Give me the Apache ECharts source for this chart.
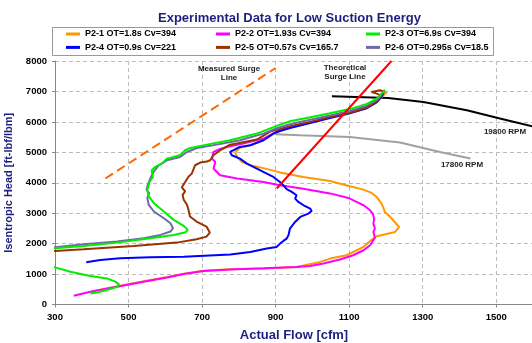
<!DOCTYPE html>
<html><head><meta charset="utf-8">
<script src="https://cdn.jsdelivr.net/npm/echarts@6/dist/echarts.min.js"></script>
<style>html,body{margin:0;padding:0;background:#fff}#c{width:532px;height:343px}</style>
</head><body><div id="c"></div>
<script>
const seriesNames = ['P2-1 OT=1.8s Cv=394', 'P2-2 OT=1.93s Cv=394', 'P2-3 OT=6.9s Cv=394', 'P2-4 OT=0.9s Cv=221', 'P2-5 OT=0.57s Cv=165.7', 'P2-6 OT=0.295s Cv=18.5'];
const seriesColors = ['#FF9900', '#FF00FF', '#00EE00', '#0000FF', '#993300', '#6B6BA8'];

const p21 = [[400,430],[470,600],[541,765],[605,905],[650,1010],[704,1110],[776,1158],[867,1180],[957,1235],[1021,1399],[1048,1508],[1093,1618],[1139,1892],[1157,2089],[1175,2242],[1225,2384],[1236,2549],[1229,2636],[1216,2822],[1207,2932],[1197,3041],[1193,3184],[1188,3315],[1175,3534],[1161,3665],[1139,3775],[1102,3885],[1048,4060],[975,4191],[912,4340],[867,4480],[831,4575],[808,4684],[795,4850],[790,5000],[803,5150],[831,5230],[867,5400],[900,5660],[939,5820],[994,5980],[1048,6150],[1102,6300],[1148,6480],[1178,6700],[1198,6920],[1203,6990]];
const p22 = [[351,286],[396,418],[469,582],[541,747],[605,890],[650,1000],[704,1099],[777,1150],[867,1191],[957,1235],[994,1268],[1030,1344],[1075,1476],[1111,1618],[1139,1782],[1157,1947],[1170,2198],[1166,2384],[1170,2494],[1166,2658],[1168,2822],[1164,2987],[1157,3096],[1139,3260],[1120,3370],[1098,3501],[1048,3650],[975,3800],[912,3918],[867,4026],[795,4138],[749,4246],[731,4466],[736,4684],[727,4794],[731,5011],[745,5090],[767,5176],[812,5286],[867,5450],[903,5680],[939,5830],[994,5990],[1048,6160],[1102,6320],[1148,6490],[1175,6680],[1191,6900],[1195,6983]];
const p23 = [[396,363],[423,414],[455,525],[469,580],[474,660],[464,750],[441,857],[396,934],[342,1077],[300,1220],[270,1300],[270,1830],[300,1846],[378,1923],[469,2033],[560,2176],[623,2286],[655,2374],[661,2451],[650,2583],[623,2780],[596,3055],[569,3330],[555,3550],[551,3750],[557,4027],[566,4191],[563,4410],[572,4519],[591,4629],[604,4793],[640,4903],[654,5067],[668,5143],[713,5253],[776,5395],[849,5616],[903,5870],[939,6020],[994,6150],[1048,6280],[1102,6420],[1148,6590],[1175,6760],[1193,6980],[1197,7060]];
const p24 = [[385,1385],[423,1462],[477,1517],[559,1550],[650,1572],[777,1645],[831,1727],[876,1837],[903,1892],[912,2001],[921,2089],[930,2165],[935,2275],[939,2494],[953,2713],[967,2877],[989,2987],[998,3074],[994,3151],[976,3260],[962,3370],[953,3479],[957,3589],[944,3698],[930,3790],[917,3973],[894,4191],[876,4302],[849,4466],[822,4630],[803,4794],[781,4903],[776,5011],[790,5100],[803,5176],[831,5231],[867,5395],[894,5614],[912,5700],[939,5800],[994,5960],[1048,6130],[1102,6280],[1148,6450],[1175,6640],[1188,6830],[1193,6950]];
const p25 = [[270,1740],[300,1758],[378,1813],[514,1923],[631,2033],[685,2143],[712,2231],[721,2363],[712,2561],[685,2725],[667,2890],[663,3110],[659,3275],[650,3440],[647,3605],[654,3715],[645,3850],[654,4026],[663,4200],[672,4300],[681,4575],[695,4662],[713,4700],[722,4738],[731,4903],[749,5067],[776,5250],[794,5290],[849,5420],[885,5680],[939,5860],[994,6000],[1048,6160],[1102,6300],[1148,6470],[1175,6670],[1188,6860],[1175,6928],[1161,6983],[1166,7037],[1184,7037],[1197,6983]];
const p26 = [[270,1860],[300,1880],[378,1978],[469,2066],[541,2176],[587,2286],[614,2396],[621,2506],[614,2670],[596,2835],[569,3055],[555,3275],[551,3495],[556,3660],[549,3770],[552,3917],[559,4136],[568,4355],[582,4574],[604,4738],[640,4848],[659,5012],[686,5143],[740,5253],[803,5395],[867,5614],[903,5790],[939,5920],[994,6070],[1048,6210],[1102,6360],[1148,6530],[1175,6720],[1191,6950],[1195,7016]];
const measuredSurge = [[437,4140],[900,7770]];
const theoreticalSurge = [[903,3810],[1215,8000]];
const rpm19800 = [[1053,6841],[1206,6785],[1302,6653],[1420,6381],[1510,6108],[1600,5850]];
const rpm17800 = [[899,5593],[966,5560],[1102,5504],[1238,5320],[1347,5011],[1430,4794]];
const testData = [p21, p22, p23, p24, p25, p26];

const xMin = 300, xMax = 1600, xStep = 200;
const yMin = 0, yMax = 8000, yStep = 1000;

const FONT = 'Arial, "Liberation Sans", sans-serif';
const chart = echarts.init(document.getElementById('c'), null, {renderer: 'canvas'});

const lineSeries = (name, data, color, extra) => Object.assign({
  name, type: 'line', data, showSymbol: false, symbol: 'none', silent: true,
  lineStyle: {color, width: 2}, itemStyle: {color}
}, extra || {});

const legendCol = (i, left) => ({
  left, top: 28, orient: 'vertical', itemGap: 1.4, itemWidth: 14, itemHeight: 3, icon: 'rect',
  selectedMode: false, padding: 0,
  data: [seriesNames[i], seriesNames[i + 3]],
  textStyle: {fontFamily: FONT, fontWeight: 'bold', fontSize: 9, color: '#000', lineHeight: 12}
});

const series = [
  lineSeries('19800 RPM', rpm19800, '#000000'),
  lineSeries('17800 RPM', rpm17800, '#A0A0A0'),
  lineSeries('Measured Surge Line', measuredSurge, '#FF6600', {lineStyle: {color: '#FF6600', width: 2, type: [9, 5]}})
];
const order = [0, 1, 3, 4, 5, 2];
order.forEach(i => series.push(lineSeries(seriesNames[i], testData[i], seriesColors[i])));
series.push(lineSeries('Theoretical Surge Line', theoreticalSurge, '#FF0000'));

const plain = v => String(v);

chart.setOption({
  animation: false,
  backgroundColor: '#fff',
  title: {
    text: 'Experimental Data for Low Suction Energy', left: 153, top: 7,
    textStyle: {fontFamily: FONT, fontWeight: 'bold', fontSize: 13, color: '#1F1F7F'}
  },
  legend: [legendCol(0, 66), legendCol(1, 216), legendCol(2, 366)],
  grid: {left: 55, top: 61, width: 478, height: 243.5, containLabel: false, outerBoundsMode: 'none'},
  xAxis: {
    type: 'value', min: xMin, max: xMax, interval: xStep,
    name: 'Actual Flow [cfm]', nameLocation: 'middle', nameGap: 24,
    nameTextStyle: {fontFamily: FONT, fontWeight: 'bold', fontSize: 13, color: '#1F1F7F'},
    axisLine: {show: true, lineStyle: {color: '#888', width: 1}},
    axisTick: {show: true, length: 3, lineStyle: {color: '#888'}},
    axisLabel: {fontFamily: FONT, fontWeight: 'bold', fontSize: 9.5, color: '#000', margin: 8, showMaxLabel: false, formatter: plain},
    splitLine: {show: true, lineStyle: {color: '#BBBBBB', type: [4, 3], width: 1}}
  },
  yAxis: {
    type: 'value', min: yMin, max: yMax, interval: yStep,
    name: 'Isentropic Head [ft-lbf/lbm]', nameLocation: 'middle', nameGap: 33,
    nameTextStyle: {fontFamily: FONT, fontWeight: 'bold', fontSize: 11, color: '#1F1F7F'},
    axisLine: {show: true, lineStyle: {color: '#888', width: 1}},
    axisTick: {show: true, length: 3, lineStyle: {color: '#888'}},
    axisLabel: {fontFamily: FONT, fontWeight: 'bold', fontSize: 9.5, color: '#000', margin: 8, formatter: plain},
    splitLine: {show: true, lineStyle: {color: '#BBBBBB', type: [4, 3], width: 1}}
  },
  graphic: [
    {type: 'rect', z: -1, shape: {x: 52.5, y: 27.5, width: 441, height: 28}, style: {fill: '#fff', stroke: '#999', lineWidth: 1}},
    {type: 'text', z: 10, x: 229, y: 64, style: {text: 'Measured Surge\nLine', textAlign: 'center', font: 'bold 8px ' + FONT, fill: '#222', lineHeight: 9}},
    {type: 'text', z: 10, x: 345, y: 63, style: {text: 'Theoretical\nSurge Line', textAlign: 'center', font: 'bold 8px ' + FONT, fill: '#222', lineHeight: 9}},
    {type: 'text', z: 10, x: 505, y: 128, style: {text: '19800 RPM', textAlign: 'center', font: 'bold 8px ' + FONT, fill: '#222'}},
    {type: 'text', z: 10, x: 462, y: 161, style: {text: '17800 RPM', textAlign: 'center', font: 'bold 8px ' + FONT, fill: '#222'}}
  ],
  series
});
</script></body></html>
